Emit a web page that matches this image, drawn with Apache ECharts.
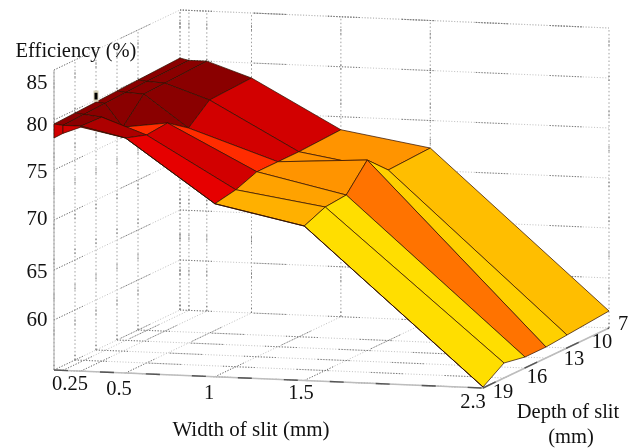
<!DOCTYPE html>
<html>
<head>
<meta charset="utf-8">
<style>html,body{margin:0;padding:0;background:#fff}#c{width:637px;height:448px;filter:blur(0.35px)}</style>
<script src="https://cdn.jsdelivr.net/npm/echarts@6/dist/echarts.min.js"></script>
</head>
<body>
<div id="c"></div>
<script>
// ---- data ----
const widthValues = [0.1, 0.15, 0.25, 0.5, 1, 1.5, 2.5];
const depthValues = [19, 19, 16, 13, 10, 7, 1];           // first row doubled: the front lip of the surface
const efficiencyRow0 = [78.2, 78.7, 79.4, 78.5, 72.3, 70.45, 55.1];
const efficiencyRow1 = [79.6, 79.5, 79.5, 78.5, 72.3, 70.45, 55.1];
const efficiencyRow2 = [79.7, 79.6, 79.4, 77.8, 72.7, 71.35, 56.5];
const efficiencyRow3 = [79.8, 79.7, 77.4, 78.0, 73.5, 71.55, 56.1];
const efficiencyRow4 = [79.9, 79.8, 79.7, 76.5, 73.5, 74.05, 56.1];
const efficiencyRow5 = [80.0, 79.9, 79.8, 78.3, 73.5, 72.05, 56.3];
const efficiencyRow6 = [80.2, 80.0, 80.0, 78.5, 73.7, 72.25, 56.7];
const efficiency = [efficiencyRow0, efficiencyRow1, efficiencyRow2, efficiencyRow3, efficiencyRow4, efficiencyRow5, efficiencyRow6];
const markerPoint = [0.1, 13, 80.4];

const efficiencyTicks = [60, 65, 70, 75, 80, 85];
const efficiencyTickLabels = ['60', '65', '70', '75', '80', '85'];
const widthTickLabels = ['0.25', '0.5', '1', '1.5', '2.3'];
const depthTickLabels = ['19', '16', '13', '10', '7'];

// ---- colours of the surface cells (one row of cells per pair of depth rows) ----
const D = '#8a0000', M = '#ad0000', R = '#d20000', B = '#e60000', H = '#ff2c00';
const A1 = '#ffb000', A2 = '#ffa200', A3 = '#ff9400', Y = '#ffde00', O = '#ff7300', G1 = '#ffd000', G2 = '#ffbe00';
const cellColours = [
  [R, R, M, B, A1, Y],
  [D, D, M, B, A1, Y],
  [D, D, H, R, A2, Y],
  [D, D, D, H, A3, O],
  [D, D, D, R, A3, G1],
  [D, D, D, R, A3, G2]
];

// ---- projection of the 3D box onto the page ----
const BOX = { x0: 54, y0: 370, wx: 429, wy: 18, dx: 126, dy: -60, zPx: 10, zMin: 55, zMax: 85, wMin: 0.1, wMax: 2.5, dNear: 19, dFar: 1 };
function project(width, depth, eff) {
  const w = (width - BOX.wMin) / (BOX.wMax - BOX.wMin);
  const d = (BOX.dNear - depth) / (BOX.dNear - BOX.dFar);
  return [BOX.x0 + BOX.wx * w + BOX.dx * d, BOX.y0 + BOX.wy * w + BOX.dy * d - BOX.zPx * (eff - BOX.zMin)];
}

// ---- walls and floor ----
const floorDepths = depthValues.slice(1);
const gridSegments = [];
function seg(a, b, kind) { gridSegments.push([a[0], a[1], b[0], b[1], kind]); }
const wA = BOX.wMin, wB = BOX.wMax, dA = BOX.dNear, dB = BOX.dFar, zA = BOX.zMin, zB = BOX.zMax;
widthValues.forEach(v => {
  seg(project(v, dA, zA), project(v, dB, zA), 0);
  seg(project(v, dB, zA), project(v, dB, zB), 1);
});
floorDepths.forEach(v => {
  seg(project(wA, v, zA), project(wB, v, zA), 0);
  seg(project(wA, v, zA), project(wA, v, zB), 1);
});
efficiencyTicks.forEach(v => {
  seg(project(wA, dA, v), project(wA, dB, v), 0);
  seg(project(wA, dB, v), project(wB, dB, v), 0);
});
seg(project(wA, dB, zB), project(wB, dB, zB), 0);

const axisSegments = [
  [...project(wA, dA, zA), ...project(wA, dA, zB), 0],
  [...project(wA, dA, zA), ...project(wB, dA, zA), 1],
  [...project(wB, dA, zA), ...project(wB, dB, zA), 1]
];

// ---- surface cells, far rows first ----
const cells = [];
for (let i = efficiency.length - 2; i >= 0; i--) {
  for (let j = 0; j < widthValues.length - 1; j++) {
    cells.push([i, j]);
  }
}

// ---- text, placed where the reference put it ----
const textItems = [
  ['Efficiency (%)', 76, 52, 20.5],
  ...efficiencyTickLabels.map((t, k) => [t, 37, [320, 272, 219, 172, 125, 83][k], 21]),
  ...widthTickLabels.map((t, k) => [t, [70, 119, 209, 301, 473][k], [385, 390, 394, 394, 403][k], 20.5]),
  ...depthTickLabels.map((t, k) => [t, [503, 537, 574, 602, 623][k], [393, 378, 360, 343, 325][k], 20.5]),
  ['Width of slit (mm)', 251, 430, 21],
  ['Depth of slit', 568, 413, 20.5],
  ['(mm)', 571, 438, 20.5]
];

const chart = echarts.init(document.getElementById('c'), null, { renderer: 'canvas' });
const darkPatch = [];
for (let k = 0; k < 12; k++) darkPatch.push(1.2, 1.6);
darkPatch[darkPatch.length - 1] = 42;

chart.setOption({
  animation: false,
  backgroundColor: '#fff',
  grid: { left: 0, right: 0, top: 0, bottom: 0 },
  xAxis: { type: 'value', min: 0, max: 637, show: false },
  yAxis: { type: 'value', min: 0, max: 448, inverse: true, show: false },
  series: [
    {
      type: 'custom', coordinateSystem: 'cartesian2d', silent: true,
      data: gridSegments,
      renderItem(params, api) {
        const a = api.coord([api.value(0), api.value(1)]);
        const b = api.coord([api.value(2), api.value(3)]);
        const vertical = api.value(4) === 1;
        return {
          type: 'group',
          children: [
            { type: 'line', shape: { x1: a[0], y1: a[1], x2: b[0], y2: b[1] },
              style: { stroke: vertical ? '#a0a0a0' : '#c0c0c0', lineWidth: 1, lineDash: vertical ? [1.5, 2.3] : [1, 1.8] } },
            { type: 'line', shape: { x1: a[0], y1: a[1], x2: b[0], y2: b[1] },
              style: { stroke: '#777', lineWidth: 1, lineDash: vertical ? [1.5, 2.3, 1.5, 30] : darkPatch } }
          ]
        };
      }
    },
    {
      type: 'custom', coordinateSystem: 'cartesian2d', silent: true,
      data: axisSegments,
      renderItem(params, api) {
        const a = api.coord([api.value(0), api.value(1)]);
        const b = api.coord([api.value(2), api.value(3)]);
        const heavy = api.value(4) === 1;
        const shape = { x1: a[0], y1: a[1], x2: b[0], y2: b[1] };
        return {
          type: 'group',
          children: [
            { type: 'line', shape, style: { stroke: heavy ? '#bdbdbd' : '#a8a8a8', lineWidth: heavy ? 1.6 : 1 } },
            { type: 'line', shape, style: { stroke: heavy ? '#555' : 'transparent', lineWidth: 1.4, lineDash: [14, 32] } }
          ]
        };
      }
    },
    {
      type: 'custom', coordinateSystem: 'cartesian2d', silent: true,
      data: cells,
      renderItem(params, api) {
        const i = api.value(0), j = api.value(1);
        const corner = (r, c) => api.coord(project(widthValues[c], depthValues[r], efficiency[r][c]));
        return {
          type: 'polygon',
          shape: { points: [corner(i, j), corner(i, j + 1), corner(i + 1, j + 1), corner(i + 1, j)] },
          style: { fill: cellColours[i][j], stroke: 'rgba(50,15,0,0.72)', lineWidth: 1, lineJoin: 'round' }
        };
      }
    },
    {
      type: 'scatter', coordinateSystem: 'cartesian2d', silent: true,
      data: [project(markerPoint[0], markerPoint[1], markerPoint[2])],
      symbol: 'rect', symbolSize: [4, 9],
      itemStyle: { color: '#000', borderColor: '#d8d2b8', borderWidth: 1.5, opacity: 1 }
    },
    {
      type: 'custom', coordinateSystem: 'cartesian2d', silent: true,
      data: textItems.map((t, k) => [t[1], t[2], k]),
      renderItem(params, api) {
        const p = api.coord([api.value(0), api.value(1)]);
        const t = textItems[api.value(2)];
        return {
          type: 'text', x: p[0], y: p[1],
          style: { text: t[0], fill: '#111', font: t[3] + 'px "Liberation Serif", serif', textAlign: 'center', textVerticalAlign: 'middle' }
        };
      }
    }
  ]
});
</script>
</body>
</html>
